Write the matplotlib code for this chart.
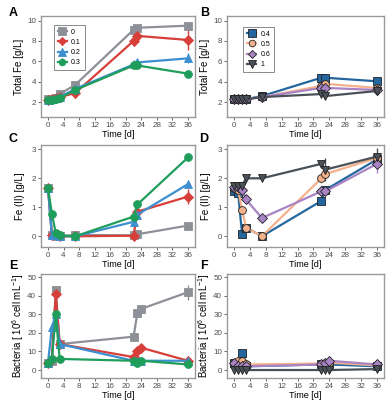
import matplotlib.pyplot as plt
import numpy as np

plt.rcParams['font.family'] = ['Liberation Sans', 'DejaVu Sans']
plt.rcParams['mathtext.fontset'] = 'custom'
plt.rcParams['mathtext.rm'] = 'Liberation Sans'
plt.rcParams['mathtext.it'] = 'Liberation Sans:italic'

# time points [d]
t_fe = [0, 1, 2, 3, 7, 22, 23, 36]
t_bac = [0, 1, 2, 3, 22, 23, 24, 36]

labels_left = ['0', '0.1', '0.2', '0.3']
labels_right = ['0.4', '0.5', '0.6', '1']

# Total Fe [g/L]
tot_left = [
    [2.3, 2.3, 2.4, 2.8, 3.7, 9.1, 9.3, 9.5],
    [2.2, 2.3, 2.4, 2.5, 2.9, 8.0, 8.5, 8.1],
    [2.2, 2.3, 2.4, 2.5, 3.3, 5.7, 5.9, 6.3],
    [2.2, 2.2, 2.3, 2.4, 3.2, 5.6, 5.6, 4.8],
]
tot_left_err = [
    [0, 0, 0, 0.1, 0.1, 0.1, 0.1, 0.2],
    [0, 0, 0, 0.1, 0.5, 0.5, 0.4, 1.0],
    [0, 0, 0, 0.1, 0.1, 0.2, 0.2, 0.5],
    [0, 0, 0, 0.1, 0.1, 0.1, 0.1, 0.1],
]
tot_right = [
    [2.3, 2.3, 2.3, 2.3, 2.6, 4.4, 4.4, 4.05],
    [2.3, 2.3, 2.3, 2.3, 2.5, 3.6, 3.8, 3.4],
    [2.3, 2.3, 2.3, 2.3, 2.5, 3.4, 3.4, 3.2],
    [2.3, 2.3, 2.3, 2.3, 2.5, 2.8, 2.6, 3.1],
]
tot_right_err = [
    [0, 0, 0, 0, 0.1, 0.1, 0.1, 0.3],
    [0, 0, 0, 0, 0.1, 0.2, 0.2, 0.2],
    [0, 0, 0, 0, 0.1, 0.3, 0.2, 0.2],
    [0, 0, 0, 0, 0.1, 0.1, 0.2, 0.3],
]

# Fe(II) [g/L]
fe2_left = [
    [1.68, 0.05, 0.02, 0.0, 0.05, 0.03, 0.07, 0.37],
    [1.68, 0.05, 0.05, 0.0, 0.0, 0.02, 0.85, 1.37],
    [1.68, 0.03, 0.05, 0.0, 0.0, 0.5, 0.75, 1.8],
    [1.68, 0.78, 0.1, 0.03, 0.0, 0.68, 1.1, 2.72],
]
fe2_left_err = [
    [0, 0, 0, 0, 0, 0, 0, 0.03],
    [0, 0, 0, 0, 0, 0, 0.05, 0.25],
    [0, 0, 0, 0, 0, 0, 0.05, 0.1],
    [0, 0, 0, 0, 0, 0, 0, 0.05],
]
fe2_right = [
    [1.55, 1.5, 0.08, 0.3, 0.0, 1.22, 1.6, 2.65],
    [1.65, 1.6, 0.92, 0.3, 0.0, 2.0, 2.15, 2.7],
    [1.7, 1.7, 1.6, 1.27, 0.63, 1.55, 1.55, 2.5],
    [1.75, 1.75, 1.75, 2.0, 2.0, 2.5, 2.3, 2.75],
]
fe2_right_err = [
    [0, 0, 0, 0, 0, 0, 0, 0.1],
    [0, 0, 0, 0, 0, 0.15, 0.1, 0.15],
    [0, 0, 0, 0, 0, 0.05, 0.05, 0.3],
    [0, 0, 0, 0, 0, 0.1, 0.4, 0.3],
]

# Bacteria [10^6 cell/mL]
bac_left = [
    [4, 5, 43, 14, 18, 31, 33, 42],
    [4, 6, 41, 14, 7, 10, 12, 5],
    [4, 23, 30, 14, 5, 5, 5, 5],
    [4, 6, 30, 6, 5, 4, 5, 3],
]
bac_left_err = [
    [0, 0, 1, 1, 1, 1, 1, 4],
    [0, 0, 1, 1, 1, 1, 1, 1],
    [0, 1, 1, 1, 1, 1, 1, 1],
    [0, 0, 1, 1, 1, 1, 1, 1],
]
bac_right = [
    [4, 3, 9, 2, 3, 3, 3, 2],
    [4, 5, 5, 3, 3.5, 4, 4, 2.5],
    [4, 2, 2, 2, 3, 4, 5, 3],
    [0, 0, 0, 0, 0, 0, 0, 0.5],
]
bac_right_err = [
    [0, 0, 0, 0, 0, 0, 0, 0],
    [0, 0, 0, 0, 0, 0, 0, 0],
    [0, 0, 0, 0, 0, 0, 0, 0],
    [0, 0, 0, 0, 0, 0, 0, 0],
]

col_left = ['#8d9096', '#d7403a', '#3d8fcf', '#1f9d5b']
mk_left = ['s', 'D', '^', 'o']
col_right = ['#24679f', '#f4b18b', '#a984c4', '#4b5159']
mk_right = ['s', 'o', 'D', 'v']

W, H = 388, 400
fig = plt.figure(figsize=(W / 100, H / 100), dpi=100)

# axes boxes in pixels: left, right, top, bottom ; letter position
boxes = {
    'A': (41, 195, 16, 117, 13, 13), 'B': (227, 384, 16, 117, 205, 13),
    'C': (41, 195, 145, 247, 13, 139), 'D': (227, 384, 145, 247, 204, 139),
    'E': (41, 195, 274, 378, 13, 266), 'F': (227, 384, 274, 378, 204, 266),
}


def make_ax(key):
    l, r, t, b, lx, ly = boxes[key]
    ax = fig.add_axes([l / W, 1 - b / H, (r - l) / W, (b - t) / H])
    for s in ax.spines.values():
        s.set_color('#9a9a9a')
        s.set_linewidth(1.0)
    ax.tick_params(labelsize=5.8, colors='#4d4d4d', length=2, width=0.6,
                   pad=1.5)
    ax.set_xlim(-1.8, 37.8)
    ax.set_xticks(range(0, 37, 4))
    ax.set_xlabel('Time [d]', fontsize=6.5, labelpad=0.5)
    fig.text(lx / W, 1 - ly / H, key, fontsize=9,
             fontweight='bold', ha='center', va='center')
    return ax


def draw(ax, t, data, err, cols, mks, labels, edge):
    for y, e, c, m, lab in zip(data, err, cols, mks, labels):
        ms = 6.3 if m in ('s', 'v', '^') else 5.6
        if m == 'D':
            ms = 5
        ax.errorbar(t, y, yerr=e, color=c, ecolor=c, elinewidth=1,
                    capsize=0, lw=1.6, marker=m, ms=ms,
                    mfc=c, mec=edge if edge else c, mew=0.6, label=lab)


def legend(ax, anchor):
    leg = ax.legend(loc='upper left', bbox_to_anchor=anchor, fontsize=5,
                    frameon=True, fancybox=False, handlelength=1.3,
                    handletextpad=0.6, borderpad=0.6, labelspacing=0.45,
                    markerscale=0.85)
    leg.get_frame().set_edgecolor('#555555')
    leg.get_frame().set_linewidth(0.6)


ax = make_ax('A')
draw(ax, t_fe, tot_left, tot_left_err, col_left, mk_left, labels_left, None)
ax.set_ylim(0.55, 10.45)
ax.set_yticks([2, 4, 6, 8, 10])
ax.set_ylabel('Total Fe [g/L]', fontsize=7, labelpad=2)
legend(ax, (0.06, 0.95))

ax = make_ax('B')
draw(ax, t_fe, tot_right, tot_right_err, col_right, mk_right, labels_right,
     '#222222')
ax.set_ylim(0.55, 10.45)
ax.set_yticks([2, 4, 6, 8, 10])
ax.set_ylabel('Total Fe [g/L]', fontsize=7, labelpad=2)
legend(ax, (0.08, 0.93))

ax = make_ax('C')
draw(ax, t_fe, fe2_left, fe2_left_err, col_left, mk_left, labels_left, None)
ax.set_ylim(-0.37, 3.15)
ax.set_yticks([0, 1, 2, 3])
ax.set_ylabel('Fe (II) [g/L]', fontsize=7, labelpad=5)

ax = make_ax('D')
draw(ax, t_fe, fe2_right, fe2_right_err, col_right, mk_right, labels_right,
     '#222222')
ax.set_ylim(-0.37, 3.15)
ax.set_yticks([0, 1, 2, 3])
ax.set_ylabel('Fe (II) [g/L]', fontsize=7, labelpad=5)

ax = make_ax('E')
draw(ax, t_bac, bac_left, bac_left_err, col_left, mk_left, labels_left, None)
ax.set_ylim(-4.3, 51.8)
ax.set_yticks(range(0, 51, 10))
ax.set_ylabel('Bacteria [ 10$^6$ cell mL$^{-1}$]', fontsize=7, labelpad=1)

ax = make_ax('F')
draw(ax, t_bac, bac_right, bac_right_err, col_right, mk_right, labels_right,
     '#222222')
ax.set_ylim(-4.3, 51.8)
ax.set_yticks(range(0, 51, 10))
ax.set_ylabel('Bacteria [ 10$^6$ cell mL$^{-1}$]', fontsize=7, labelpad=1)

fig.savefig('out.png', dpi=100)
